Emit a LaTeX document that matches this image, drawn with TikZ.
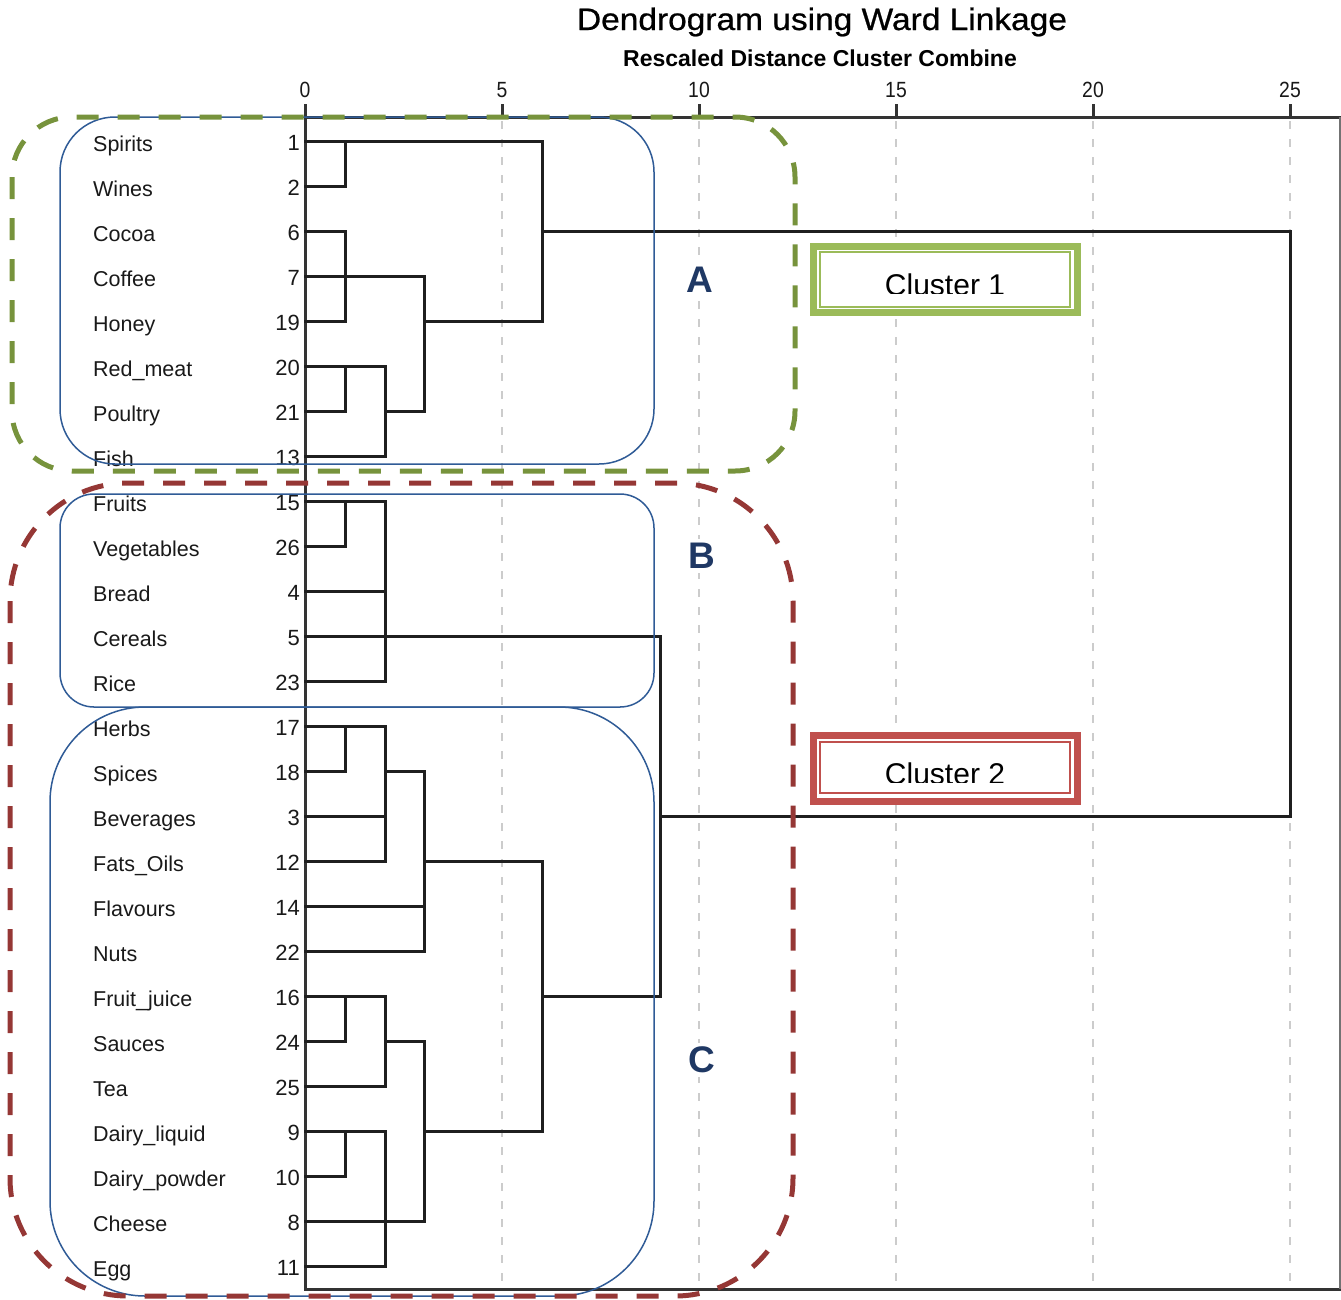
\documentclass[tikz,border=0pt]{standalone}
\usepackage{fontspec}
\setmainfont{Liberation Sans}
\newfontfamily\headfont[FakeBold=0.7]{Liberation Sans}
\definecolor{grpgreen}{HTML}{77933C}
\definecolor{grpred}{HTML}{953735}
\definecolor{subblue}{HTML}{2F5B96}
\definecolor{boxgreen}{HTML}{9BBB59}
\definecolor{boxred}{HTML}{C0504D}
\definecolor{tagblue}{HTML}{1F3864}
\begin{document}
\begin{tikzpicture}[x=1pt,y=-1pt,
  tree/.style={line width=3pt, black!88, line cap=rect},
  axisline/.style={line width=3pt, black!80},
  gridline/.style={line width=1.6pt, black!20, dash pattern=on 8pt off 10pt},
  itemname/.style={anchor=base west, inner sep=0pt, text=black!90,
    font=\fontsize{21.5}{24}\selectfont},
  itemnum/.style={anchor=base east, inner sep=0pt, text=black!90,
    font=\fontsize{22}{24}\selectfont},
  ticklab/.style={anchor=base, inner sep=0pt, text=black!90},
  grpbox/.style={line width=5pt, dash pattern=on 22pt off 19pt},
  subbox/.style={line width=1.5pt, draw=subblue},
  tag/.style={fill=white, inner sep=4pt, text=tagblue,
    font=\fontsize{37}{40}\selectfont\bfseries},
  clabel/.style={anchor=base, inner sep=0pt, font=\fontsize{30}{32}\selectfont}
]
\useasboundingbox (0,0) rectangle (1341,1299);

% titles
\node[anchor=base, inner sep=0pt] (title) at (822,30)
  {\headfont\fontsize{31}{33}\selectfont\scalebox{1.08}[1]{Dendrogram using Ward Linkage}};
\node[anchor=base, inner sep=0pt] (subtitle) at (820,66)
  {\fontsize{23}{25}\selectfont\bfseries Rescaled Distance Cluster Combine};

% vertical grid lines
\foreach \v in {5,10,15,20,25}
  \draw[gridline] (305+39.4*\v,121) -- (305+39.4*\v,1287);

% axis ticks and labels
\foreach \v in {0,5,10,15,20,25} {
  \draw[axisline] (305+39.4*\v,104) -- (305+39.4*\v,117);
  \node[ticklab] (t\v) at (305+39.4*\v,97)
    {\fontsize{22}{24}\selectfont\scalebox{0.88}[1]{\v}};
}

% frame
\draw[axisline] (305,104) -- (305,1289) -- (1341,1289);
\draw[axisline] (305,117) -- (1341,117);
\draw[line width=1.5pt, black!55] (1340,117) -- (1340,1289);

% case labels and numbers
\foreach \nm/\n/\i in {Spirits/1/0, Wines/2/1, Cocoa/6/2, Coffee/7/3,
  Honey/19/4, Red\_meat/20/5, Poultry/21/6, Fish/13/7, Fruits/15/8,
  Vegetables/26/9, Bread/4/10, Cereals/5/11, Rice/23/12, Herbs/17/13,
  Spices/18/14, Beverages/3/15, Fats\_Oils/12/16, Flavours/14/17,
  Nuts/22/18, Fruit\_juice/16/19, Sauces/24/20, Tea/25/21,
  Dairy\_liquid/9/22, Dairy\_powder/10/23, Cheese/8/24, Egg/11/25} {
  \node[itemname] (name\n) at (93,151+45*\i) {\nm};
  \node[itemnum] (num\n) at (300,150+45*\i) {\n};
}

% dendrogram: cluster 1
\draw[tree] (305,141) -- (542,141);
\draw[tree] (305,186) -- (345,186);
\draw[tree] (345,141) -- (345,186);
\draw[tree] (305,231) -- (345,231);
\draw[tree] (305,276) -- (424,276);
\draw[tree] (305,321) -- (345,321);
\draw[tree] (345,231) -- (345,321);
\draw[tree] (305,366) -- (385,366);
\draw[tree] (305,411) -- (345,411);
\draw[tree] (345,366) -- (345,411);
\draw[tree] (305,456) -- (385,456);
\draw[tree] (385,366) -- (385,456);
\draw[tree] (385,411) -- (424,411);
\draw[tree] (424,276) -- (424,411);
\draw[tree] (424,321) -- (542,321);
\draw[tree] (542,141) -- (542,321);
\draw[tree] (542,231) -- (1290,231);

% dendrogram: cluster 2
\draw[tree] (305,501) -- (385,501);
\draw[tree] (305,546) -- (345,546);
\draw[tree] (345,501) -- (345,546);
\draw[tree] (305,591) -- (385,591);
\draw[tree] (305,636) -- (660,636);
\draw[tree] (305,681) -- (385,681);
\draw[tree] (385,501) -- (385,681);

\draw[tree] (305,726) -- (385,726);
\draw[tree] (305,771) -- (345,771);
\draw[tree] (345,726) -- (345,771);
\draw[tree] (305,816) -- (385,816);
\draw[tree] (305,861) -- (385,861);
\draw[tree] (385,726) -- (385,861);
\draw[tree] (385,771) -- (424,771);
\draw[tree] (305,906) -- (424,906);
\draw[tree] (305,951) -- (424,951);
\draw[tree] (424,771) -- (424,951);
\draw[tree] (424,861) -- (542,861);

\draw[tree] (305,996) -- (385,996);
\draw[tree] (305,1041) -- (345,1041);
\draw[tree] (345,996) -- (345,1041);
\draw[tree] (305,1086) -- (385,1086);
\draw[tree] (385,996) -- (385,1086);
\draw[tree] (385,1041) -- (424,1041);

\draw[tree] (305,1131) -- (385,1131);
\draw[tree] (305,1176) -- (345,1176);
\draw[tree] (345,1131) -- (345,1176);
\draw[tree] (305,1221) -- (424,1221);
\draw[tree] (305,1266) -- (385,1266);
\draw[tree] (385,1131) -- (385,1266);
\draw[tree] (424,1041) -- (424,1221);
\draw[tree] (424,1131) -- (542,1131);

\draw[tree] (542,861) -- (542,1131);
\draw[tree] (542,996) -- (660,996);
\draw[tree] (660,636) -- (660,996);
\draw[tree] (660,816) -- (1290,816);
\draw[tree] (1290,231) -- (1290,816);

% sub-group outlines
\draw[subbox, rounded corners=55pt] (60,117) rectangle (654,464);
\draw[subbox, rounded corners=34pt] (60,494) rectangle (654,707);
\draw[subbox, rounded corners=95pt] (50,707) rectangle (654,1296);

% cluster outlines
\draw[grpbox, draw=grpgreen, rounded corners=60pt] (12,117) rectangle (795,471);
\draw[grpbox, draw=grpred, rounded corners=118pt] (10,483) rectangle (793,1296);

% group tags
\node[tag] (tagA) at (700,280) {A};
\node[tag] (tagB) at (702,556) {B};
\node[tag] (tagC) at (702,1060) {C};

% cluster legend boxes
\node[draw=boxgreen, fill=white, line width=7pt, minimum width=264pt,
  minimum height=66pt, inner sep=0pt] (clu1) at (945.5,279.5) {};
\draw[boxgreen, line width=1.5pt] (820,252) rectangle (1070,307);
\begin{scope}
  \clip (821,253) rectangle (1069,293);
  \node[clabel] (clu1text) at (945,295.5) {Cluster 1};
\end{scope}

\node[draw=boxred, fill=white, line width=7pt, minimum width=264pt,
  minimum height=66pt, inner sep=0pt] (clu2) at (945.5,768) {};
\draw[boxred, line width=1.5pt] (820,742) rectangle (1070,793);
\begin{scope}
  \clip (821,743) rectangle (1069,782);
  \node[clabel] (clu2text) at (945,784.5) {Cluster 2};
\end{scope}

\end{tikzpicture}
\end{document}
